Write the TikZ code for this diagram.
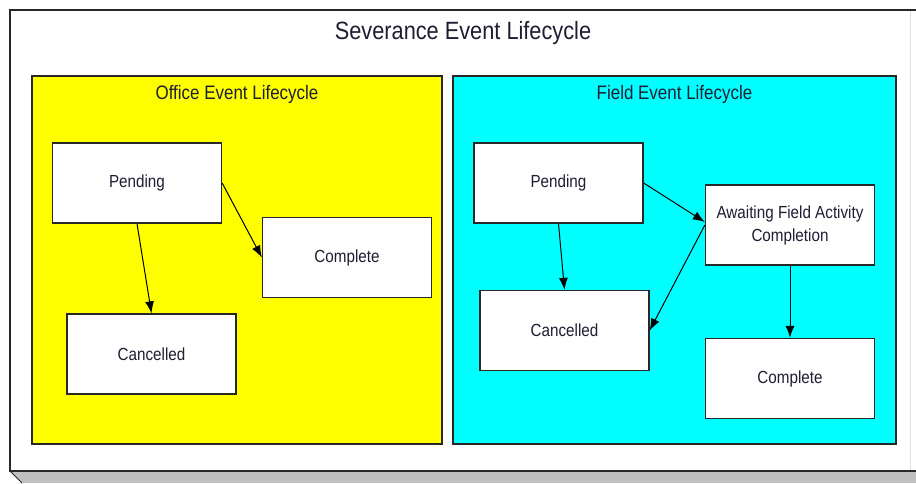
\documentclass[tikz,border=0pt]{standalone}
\usepackage{fontspec}
\setmainfont{Liberation Sans}
\newfontfamily\diagfont[FakeStretch=0.87]{Liberation Sans}
\usetikzlibrary{arrows.meta, positioning}
\definecolor{officefill}{RGB}{255,255,0}
\definecolor{fieldfill}{RGB}{0,255,255}
\definecolor{shadowfill}{RGB}{192,192,192}
\definecolor{frameline}{RGB}{40,40,40}
\definecolor{txt}{RGB}{30,30,50}

\begin{document}
\begin{tikzpicture}[
  x=1pt, y=-1pt,
  font=\diagfont,
  lane/.style={draw=frameline, line width=1.3pt, inner sep=0pt,
               minimum height=368pt},
  lanetitle/.style={text=txt, inner sep=0pt, font=\diagfont\fontsize{19.5}{23}\selectfont},
  state/.style={draw=frameline, fill=white, line width=1.3pt, align=center,
                minimum width=169pt, minimum height=80pt, inner sep=2pt,
                text=txt, font=\diagfont\fontsize{17.5}{23}\selectfont},
  flow/.style={-{Latex[length=12pt, width=9pt]}, line width=1pt},
]
\useasboundingbox (0,0) rectangle (916,483);

% outer frame with its shadow
\fill[shadowfill] (10,471) -- (22,483) -- (916,483) -- (916,471) -- cycle;
\draw[frameline, line width=0.8pt] (10,471) -- (22,483);
\draw[gray!25, line width=0.8pt] (910,10) -- (910,471);
\draw[frameline, line width=1.6pt] (916,10) -- (10,10) -- (10,471) -- (916,471);
\node[text=txt, inner sep=0pt, font=\diagfont\fontsize{25}{28}\selectfont] (title) at (463,33) {Severance Event Lifecycle};

% lanes
\node[lane, fill=officefill, minimum width=410pt] (office) at (237,260) {};
\node[lane, fill=fieldfill, minimum width=443pt] (field) at (674.5,260) {};
\node[lanetitle] (officettl) at ([yshift=-19pt]office.north) {Office Event Lifecycle};
\node[lanetitle] (fieldttl) at ([yshift=-19pt]field.north) {Field Event Lifecycle};

% office states
\node[state] (opend) at (137,183) {Pending};
\node[state] (ocompl) at (347,257.5) {Complete};
\node[state] (ocanc) at (151.5,354) {Cancelled};

% field states
\node[state] (fpend) at (558.5,183) {Pending};
\node[state] (fawait) at (790,225) {Awaiting Field Activity\\Completion};
\node[state] (fcanc) at (564.5,330.5) {Cancelled};
\node[state] (fcompl) at (790,378.5) {Complete};

\foreach \a/\b in {opend.east/ocompl.west, opend.south/ocanc.north,
                   fpend.south/fcanc.north, fawait.west/fcanc.east,
                   fawait.south/fcompl.north}
  \draw[flow] (\a) -- (\b);
\draw[flow] (fpend.east) -- ([yshift=3pt]fawait.west);
\end{tikzpicture}
\end{document}
